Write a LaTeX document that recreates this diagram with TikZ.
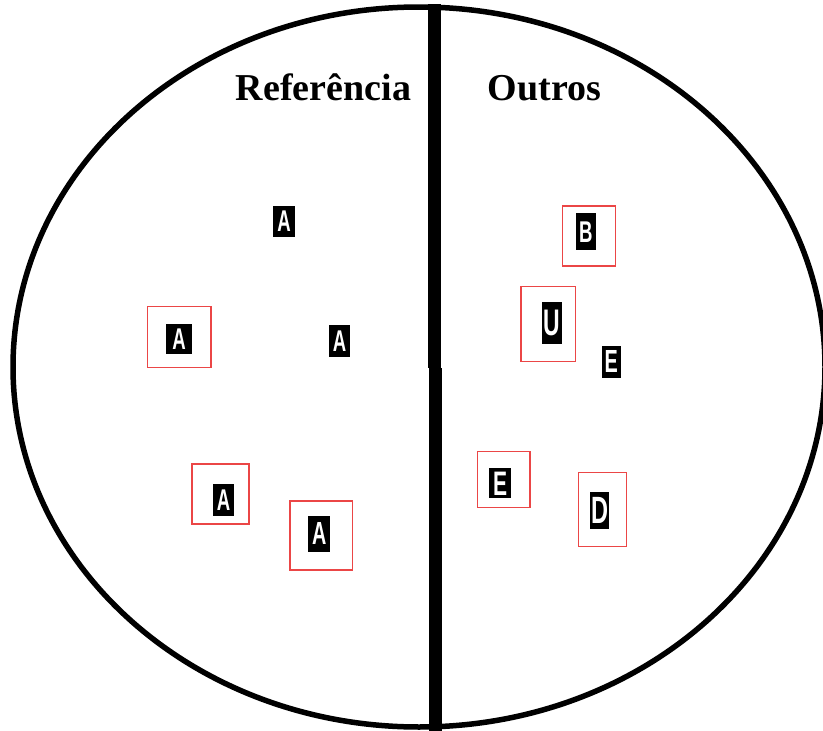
\documentclass[tikz,border=0pt]{standalone}
\usepackage{fontspec}
\setmainfont{Liberation Serif}
\newfontfamily\ltrfont{Liberation Sans}
\definecolor{boxred}{RGB}{235,70,70}
\newcommand{\ltr}[2]{\scalebox{0.62}[1]{\fontsize{#1}{#1}\selectfont\ltrfont\bfseries #2}}
\begin{document}
\begin{tikzpicture}[x=1pt,y=-1pt,
  blk/.style={fill=black,text=white,inner sep=0pt,outer sep=0pt},
  redbox/.style={draw=boxred,line width=1.5pt,inner sep=0pt},
  title/.style={font=\fontsize{38}{38}\selectfont\bfseries,anchor=base,inner sep=0pt}]
\useasboundingbox (0,0) rectangle (823,731);
% outline
\draw[line width=5.5pt] (419,367) ellipse [x radius=406, y radius=360];
\coordinate (t) at (434,4);
\coordinate (m1) at (434,368);
\coordinate (m2) at (435,368);
\coordinate (b) at (435,731);
\draw[line width=13pt] (t) -- (m1);
\draw[line width=13pt] (m2) -- (b);
% titles
\node[title] (ref) at (323.5,100) {Referência};
\node[title] (out) at (544.5,100) {Outros};
% red frames
\node[redbox,minimum width=63.7pt,minimum height=61pt] (r1) at (179.2,337.2) {};
\node[redbox,minimum width=57.3pt,minimum height=60pt] (r2) at (220.4,494) {};
\node[redbox,minimum width=62.3pt,minimum height=69.3pt] (r3) at (321.2,535.4) {};
\node[redbox,minimum width=53pt,minimum height=60.3pt] (r4) at (588.8,235.9) {};
\node[redbox,minimum width=54.3pt,minimum height=75pt] (r5) at (548.2,324.2) {};
\node[redbox,minimum width=52.7pt,minimum height=55.6pt] (r6) at (503.7,479.5) {};
\node[redbox,minimum width=48.4pt,minimum height=74.4pt] (r7) at (602.5,509.5) {};
% letter chips
\node[blk,minimum width=22pt,minimum height=31pt] (a1) at (284,221.5) {\ltr{30}{A}};
\node[blk,minimum width=26.3pt,minimum height=30pt] (a2) at (179.2,339) {\ltr{30}{A}};
\node[blk,minimum width=20.7pt,minimum height=31.7pt] (a3) at (339.7,340.9) {\ltr{30}{A}};
\node[blk,minimum width=20.7pt,minimum height=31.7pt] (a4) at (223.7,499.9) {\ltr{30}{A}};
\node[blk,minimum width=21.7pt,minimum height=36pt] (a5) at (319.2,533.7) {\ltr{32}{A}};
\node[blk,minimum width=20.3pt,minimum height=36.7pt] (bb) at (585.8,231.7) {\ltr{30}{B}};
\node[blk,minimum width=20.6pt,minimum height=42.6pt] (uu) at (552,323) {\ltr{37}{U}};
\node[blk,minimum width=19.3pt,minimum height=32pt] (e1) at (611.3,361.7) {\ltr{32}{E}};
\node[blk,minimum width=22.3pt,minimum height=30pt] (e2) at (500.2,483.3) {\ltr{34}{E}};
\node[blk,minimum width=19.3pt,minimum height=37pt] (dd) at (599.7,510.8) {\ltr{38}{D}};
\end{tikzpicture}
\end{document}
